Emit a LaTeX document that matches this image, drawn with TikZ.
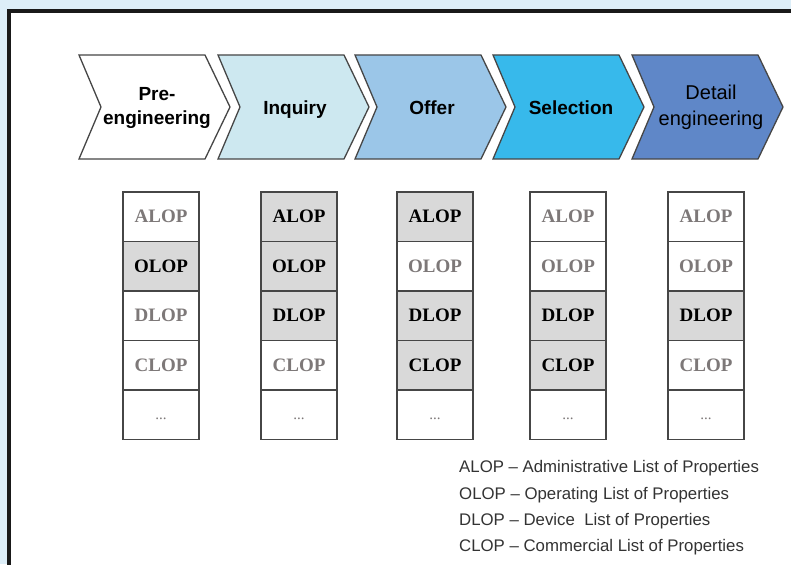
\documentclass[tikz,border=0pt]{standalone}
\usepackage{fontspec}
\setmainfont{Liberation Serif}
\setsansfont{Liberation Sans}
\definecolor{bgblue}{RGB}{221,238,248}
\definecolor{chevA}{RGB}{255,255,255}
\definecolor{chevB}{RGB}{205,232,240}
\definecolor{chevC}{RGB}{155,198,232}
\definecolor{chevD}{RGB}{55,185,235}
\definecolor{chevE}{RGB}{95,135,200}
\definecolor{cellgray}{RGB}{217,217,217}
\definecolor{textgray}{RGB}{125,120,120}
\definecolor{edgegray}{RGB}{70,70,70}
\tikzset{
  chevshape/.style={draw=edgegray, line width=1.3pt, line join=miter},
  chevtext/.style={font=\sffamily\bfseries\fontsize{19}{24}\selectfont, align=center, inner sep=0pt},
  cellbox/.style={draw=edgegray, line width=1.2pt, minimum width=76pt, minimum height=49.5pt, inner sep=0pt,
    font=\fontsize{19}{19}\selectfont\bfseries},
  oncell/.style={cellbox, fill=cellgray, text=black},
  offcell/.style={cellbox, fill=white, text=textgray},
  dotcell/.style={cellbox, fill=white, text=textgray, font=\fontsize{15}{15}\selectfont, text height=10pt, text depth=0pt},
  legend/.style={anchor=west, inner sep=0pt, text=black!80, font=\sffamily\fontsize{16.8}{16.8}\selectfont}
}
\begin{document}
\begin{tikzpicture}[x=1pt,y=-1pt]
\useasboundingbox (0,0) rectangle (791,564);
\fill[bgblue] (0,0) rectangle (791,564);
\fill[white] (9,11) rectangle (800,570);
\draw[line width=4pt, black!90] (9,570) -- (9,11) -- (800,11);

% chevrons
\foreach \L/\c in {79/chevA, 218/chevB, 355/chevC, 493/chevD, 632/chevE}{
  \filldraw[chevshape, fill=\c] (\L,55) -- (\L+126,55) -- (\L+151,107) -- (\L+126,159) -- (\L,159) -- (\L+22,107) -- cycle;
}
\node[chevtext] (pre) at (157,108) {Pre-\\engineering};
\node[chevtext, anchor=base] (inq) at (295,115) {Inquiry};
\node[chevtext, anchor=base] (off) at (432,115) {Offer};
\node[chevtext, anchor=base] (sel) at (571,115) {Selection};
\node[chevtext, font=\sffamily\fontsize{20}{26}\selectfont] (det) at (711,107) {Detail\\engineering};

% column 1
\node[offcell] (aA) at (161,216.75) {ALOP};
\node[oncell]  (aO) at (161,266.25) {OLOP};
\node[offcell] (aD) at (161,315.75) {DLOP};
\node[offcell] (aC) at (161,365.25) {CLOP};
\node[dotcell] (aX) at (161,414.75) {...};
% column 2
\node[oncell]  (bA) at (299,216.75) {ALOP};
\node[oncell]  (bO) at (299,266.25) {OLOP};
\node[oncell]  (bD) at (299,315.75) {DLOP};
\node[offcell] (bC) at (299,365.25) {CLOP};
\node[dotcell] (bX) at (299,414.75) {...};
% column 3
\node[oncell]  (cA) at (435,216.75) {ALOP};
\node[offcell] (cO) at (435,266.25) {OLOP};
\node[oncell]  (cD) at (435,315.75) {DLOP};
\node[oncell]  (cC) at (435,365.25) {CLOP};
\node[dotcell] (cX) at (435,414.75) {...};
% column 4
\node[offcell] (dA) at (568,216.75) {ALOP};
\node[offcell] (dO) at (568,266.25) {OLOP};
\node[oncell]  (dD) at (568,315.75) {DLOP};
\node[oncell]  (dC) at (568,365.25) {CLOP};
\node[dotcell] (dX) at (568,414.75) {...};
% column 5
\node[offcell] (eA) at (706,216.75) {ALOP};
\node[offcell] (eO) at (706,266.25) {OLOP};
\node[oncell]  (eD) at (706,315.75) {DLOP};
\node[offcell] (eC) at (706,365.25) {CLOP};
\node[dotcell] (eX) at (706,414.75) {...};

% legend
\node[legend] (l1) at (459,468) {ALOP -- Administrative List of Properties};
\node[legend] (l2) at (459,495) {OLOP -- Operating List of Properties};
\node[legend] (l3) at (459,521) {DLOP -- Device\ \ List of Properties};
\node[legend] (l4) at (459,547) {CLOP -- Commercial List of Properties};
\end{tikzpicture}
\end{document}
